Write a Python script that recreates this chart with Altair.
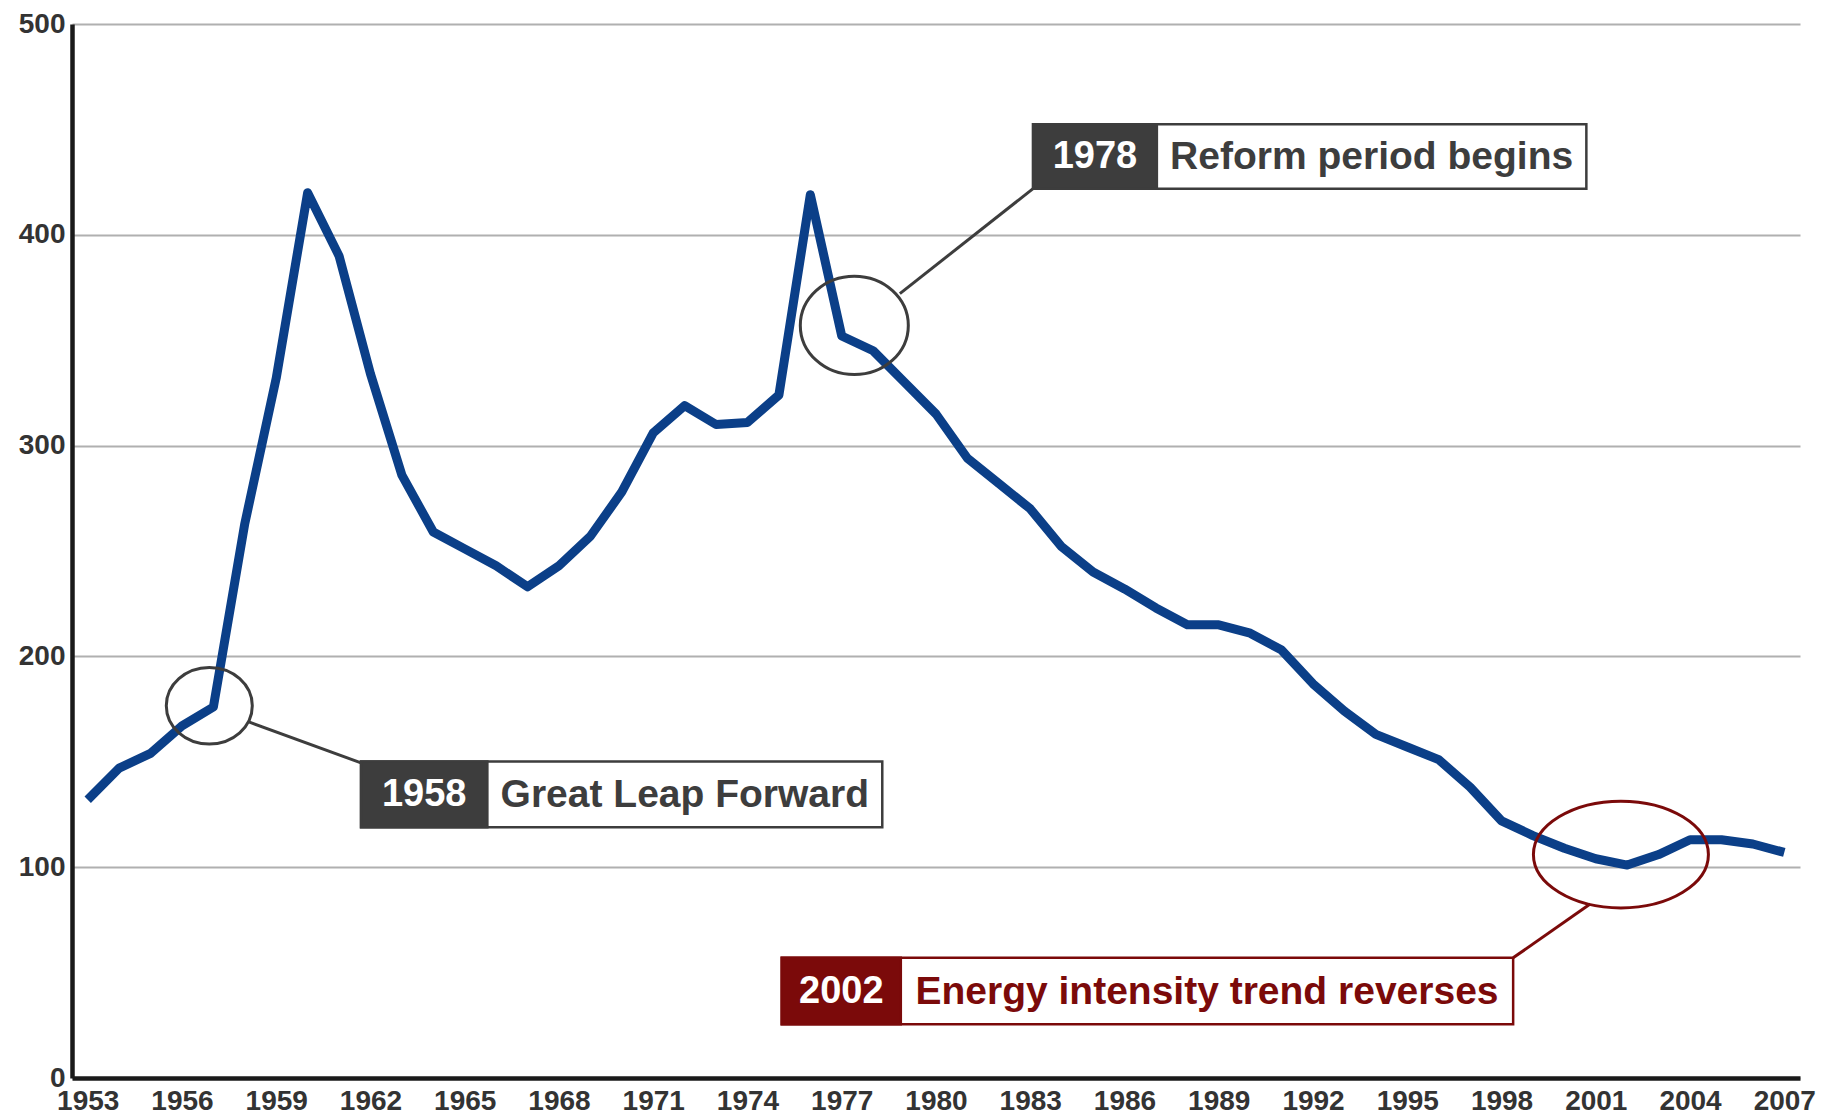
import altair as alt
import pandas as pd

# ---- data ----
years = list(range(1953, 2008))
intensity = [132, 147, 154, 167, 176, 263, 332, 420, 390, 334,
             286, 259, 251, 243, 233, 243, 257, 278, 306, 319,
             310, 311, 324, 419, 352, 345, 330, 315, 294, 282,
             270, 252, 240, 232, 223, 215, 215, 211, 203, 187,
             174, 163, 157, 151, 138, 122, 115, 109, 104, 101,
             106, 113, 113, 111, 107]
x_ticks = list(range(1953, 2008, 3))
y_ticks = [0, 100, 200, 300, 400, 500]

ann_year = ["1958", "1978", "2002"]
ann_text = ["Great Leap Forward", "Reform period begins", "Energy intensity trend reverses"]
circle_x = [1956.87, 1977.4, 2001.8]
circle_y = [176.6, 357.0, 106.0]
conn_x0 = [1958.13, 1978.85, 2000.82]
conn_y0 = [168.9, 372.1, 82.5]
conn_x1 = [1961.70, 1983.09, 1998.37]
conn_y1 = [149.5, 421.9, 57.0]
box_x0 = [1961.70, 1983.09, 1975.09]
box_xs = [1965.72, 1987.03, 1978.88]
box_x1 = [1978.29, 2000.70, 1998.37]
box_ytop = [150.1, 452.4, 57.0]
box_ybot = [119.0, 421.9, 25.5]

# ---- styles ----
ann_color = ["#3d3d3d", "#3d3d3d", "#7b0a0a"]
ellipse_width = [86, 108, 175]
ellipse_aspect = [0.89, 0.91, 0.61]
LINE_COLOR = "#0b3f88"
FONT = "Liberation Sans, Arial, Helvetica, sans-serif"

xscale = alt.Scale(domain=[1952.5, 2007.5], nice=False, zero=False)
yscale = alt.Scale(domain=[0, 500], nice=False)

df = pd.DataFrame({"year": years, "value": intensity})

x_axis = alt.Axis(values=x_ticks, format="d", grid=False, ticks=False,
                  domainColor="#1a1a1a", domainWidth=4.5,
                  labelFont=FONT, labelFontWeight="bold",
                  labelFontSize=28, labelColor="#333333", labelPadding=9,
                  labelFlush=False, labelOverlap=False, title=None)
y_axis = alt.Axis(values=y_ticks, grid=True, gridColor="#b0b0b0", gridWidth=2,
                  ticks=False, domainColor="#1a1a1a", domainWidth=4.5,
                  labelFont=FONT, labelFontWeight="bold", labelFontSize=28,
                  labelColor="#333333", labelPadding=7, title=None)

line = alt.Chart(df).mark_line(color=LINE_COLOR, strokeWidth=9, strokeJoin="round").encode(
    x=alt.X("year:Q", scale=xscale, axis=x_axis),
    y=alt.Y("value:Q", scale=yscale, axis=y_axis),
)


def ellipse_path(r):
    k = 0.5523
    return (f"M 1 0 C 1 {k*r:.4f} {k} {r} 0 {r} "
            f"C {-k} {r} -1 {k*r:.4f} -1 0 "
            f"C -1 {-k*r:.4f} {-k} {-r} 0 {-r} "
            f"C {k} {-r} 1 {-k*r:.4f} 1 0 Z")


layers = [line]
for i in range(3):
    d = pd.DataFrame({
        "cx": [circle_x[i]], "cy": [circle_y[i]],
        "lx0": [conn_x0[i]], "ly0": [conn_y0[i]],
        "lx1": [conn_x1[i]], "ly1": [conn_y1[i]],
        "bx0": [box_x0[i]], "bxs": [box_xs[i]], "bx1": [box_x1[i]],
        "byt": [box_ytop[i]], "byb": [box_ybot[i]],
        "tx_year": [(box_x0[i] + box_xs[i]) / 2],
        "tx_lab": [(box_xs[i] + box_x1[i]) / 2],
        "ty": [(box_ytop[i] + box_ybot[i]) / 2],
        "year_lab": [ann_year[i]], "text_lab": [ann_text[i]],
    })
    base = alt.Chart(d)
    col = ann_color[i]
    ell = base.mark_point(shape=ellipse_path(ellipse_aspect[i]), filled=False,
                          size=ellipse_width[i] ** 2, stroke=col, strokeWidth=3,
                          opacity=1).encode(
        x=alt.X("cx:Q", scale=xscale), y=alt.Y("cy:Q", scale=yscale))
    conn = base.mark_rule(color=col, strokeWidth=3).encode(
        x=alt.X("lx0:Q", scale=xscale), y=alt.Y("ly0:Q", scale=yscale),
        x2="lx1:Q", y2="ly1:Q")
    white = base.mark_rect(fill="white", stroke=col, strokeWidth=2.5).encode(
        x=alt.X("bx0:Q", scale=xscale), x2="bx1:Q",
        y=alt.Y("byt:Q", scale=yscale), y2="byb:Q")
    dark = base.mark_rect(fill=col, stroke=col, strokeWidth=2.5).encode(
        x=alt.X("bx0:Q", scale=xscale), x2="bxs:Q",
        y=alt.Y("byt:Q", scale=yscale), y2="byb:Q")
    t_year = base.mark_text(font=FONT, fontWeight="bold", fontSize=38, color="white",
                            align="center", baseline="middle", dy=1).encode(
        x=alt.X("tx_year:Q", scale=xscale), y=alt.Y("ty:Q", scale=yscale), text="year_lab:N")
    t_lab = base.mark_text(font=FONT, fontWeight="bold", fontSize=39, color=col,
                           align="center", baseline="middle", dy=1).encode(
        x=alt.X("tx_lab:Q", scale=xscale), y=alt.Y("ty:Q", scale=yscale), text="text_lab:N")
    layers += [ell, conn, white, dark, t_year, t_lab]

chart = alt.layer(*layers).properties(
    width=1728, height=1054,
    autosize=alt.AutoSizeParams(type="none"),
    padding={"left": 64, "top": 16, "right": 20, "bottom": 36},
    background="white",
).configure_view(stroke=None)

chart.save("out.html", embed_options={"renderer": "svg", "actions": False})
